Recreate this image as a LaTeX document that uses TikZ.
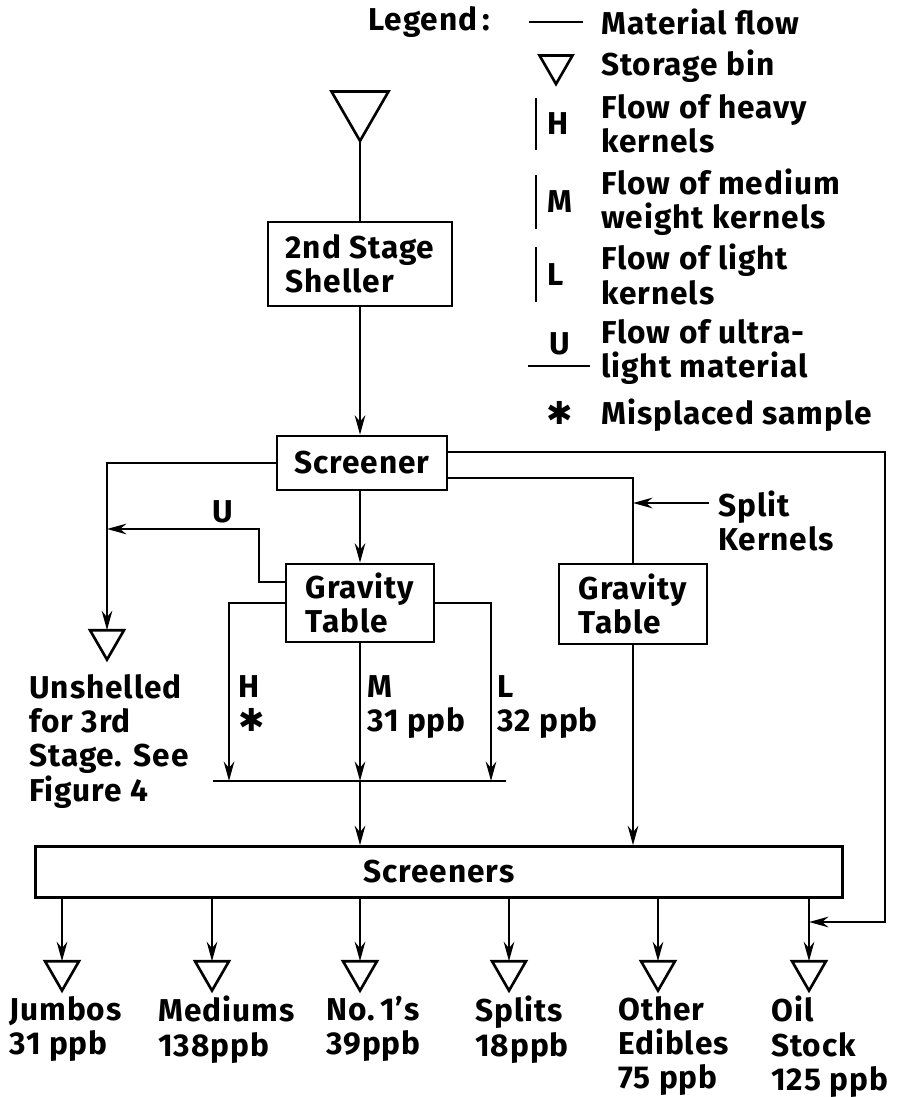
\documentclass[tikz,border=0pt]{standalone}
\usepackage{fontspec}
\setmainfont{Fira Sans}[LetterSpace=3]
\newfontfamily\symfont{DejaVu Sans}
\usetikzlibrary{arrows.meta,shapes.geometric}

\begin{document}
\begin{tikzpicture}[x=0.02cm, y=-0.02cm, line width=1.5pt,
    txt/.style={font=\bfseries\fontsize{18}{19.5}\selectfont, inner sep=0pt, align=left},
    proc/.style={draw, txt, inner sep=3pt},
    bin/.style={draw, regular polygon, regular polygon sides=3, shape border rotate=180,
                inner sep=0pt, outer sep=0pt, minimum size=0.785cm},
    bigbin/.style={bin, minimum size=1.316cm},
    flow/.style={-{Stealth[length=11pt,width=6pt]}}]
\useasboundingbox (0,0) rectangle (899,1097);
% Legend
\node[txt, anchor=west] (leg) at (367,22) {Legend\,:};
\draw (529,22) -- (583,22);
\node[txt, anchor=west] (lmat) at (600,22) {Material flow};
\node[bin, minimum size=0.762cm] (lbin) at (556,65) {};
\node[txt, anchor=west] (lstor) at (600,66) {Storage bin};
\foreach \ya/\yb/\k/\desc in {98/150/H/{Flow of heavy\\kernels},
                              175/229/M/{Flow of medium\\weight kernels},
                              247/302/L/{Flow of light\\kernels}} {
    \draw (536,\ya) -- (536,\yb);
    \node[txt, anchor=west] at (546,{(\ya+\yb)/2}) {\k};
    \node[txt, anchor=west] at (600,{(\ya+\yb)/2}) {\desc};
}
\node[txt] (lu) at (560,344) {U};
\draw (528,366) -- (590,366);
\node[txt, anchor=west] (lultra) at (600,352) {Flow of ultra-\\light material};
\node[txt] (lstar) at (560,413) {\symfont ✱};
\node[txt, anchor=west] (lmis) at (600,415) {Misplaced sample};
% Units
\node[bigbin] (feed) at (360,108) {};
\node[proc, minimum width=3.68cm, minimum height=1.68cm] (shel) at (360,264) {2nd Stage\\Sheller};
\node[proc, minimum width=3.4cm, minimum height=1.08cm] (scr) at (362,463) {Screener};
\node[proc, minimum width=2.96cm, minimum height=1.56cm] (grav1) at (360,603) {Gravity\\Table};
\node[proc, minimum width=2.96cm, minimum height=1.6cm] (grav2) at (633,604) {Gravity\\Table};
\node[proc, minimum width=16.14cm, minimum height=1.02cm] (scrs) at (439,872) {Screeners};
\node[bin] (ush) at (107,640) {};
\node[txt, anchor=north west] (ushl) at (28,673) {Unshelled\\for 3rd\\Stage. See\\Figure 4};
% Main line
\draw (feed.south) -- (shel.north);
\draw[flow] (shel) -- (shel |- scr.north);
\draw[flow] (shel |- scr.south) -- (grav1);
\draw[flow] (scr.west) -| (ush.north);
% Ultra-light material
\coordinate (ujoin) at (107,529);
\draw[flow] ([yshift=0.42cm]grav1.west) -| (259,529) -- (ujoin);
\node[txt] (ulbl) at (223,512) {U};
% Gravity table outputs
\coordinate (hin) at (229,781);
\coordinate (min) at (360,781);
\coordinate (lin) at (491,781);
\draw[flow] (grav1.west) -| (hin);
\draw[flow] (grav1.south) -- (min);
\draw[flow] (grav1.east) -| (lin);
\draw (213,781) -- (506,781);
\draw[flow] (min) -- (min |- scrs.north);
\node[txt, anchor=north west] (hlbl) at (237,674) {H\\{\symfont ✱}};
\node[txt, anchor=north west] (mlbl) at (366,674) {M\\31 ppb};
\node[txt, anchor=north west] (llbl) at (496,674) {L\\32 ppb};
% Split kernels
\draw ([yshift=-0.3cm]scr.east) -| (grav2.north);
\node[txt, anchor=west] (splitl) at (717,521) {Split\\Kernels};
\coordinate (splitin) at (709,503);
\draw[flow] (splitin) -- (splitin -| grav2.north);
\draw[flow] (grav2) -- (grav2 |- scrs.north);
% Bypass to oil stock
\coordinate (oilin) at (809,922);
\draw[flow] ([yshift=0.22cm]scr.east) -| (885,922) -- (oilin);
% Products
\foreach \i/\x/\lx/\lbl in {1/62/8/{Jumbos\\31 ppb}, 2/212/157/{Mediums\\138ppb},
                            3/360/325/{No.\,1's\\39ppb}, 4/509/474/{Splits\\18ppb},
                            5/658/617/{Other\\Edibles\\75 ppb}, 6/809/770/{Oil\\Stock\\125 ppb}} {
    \node[bin] (out\i) at (\x,971) {};
    \node[txt, anchor=north west] (outl\i) at (\lx,995) {\lbl};
    \draw[flow] (out\i.north |- scrs.south) -- (out\i.north);
}
\end{tikzpicture}
\end{document}
